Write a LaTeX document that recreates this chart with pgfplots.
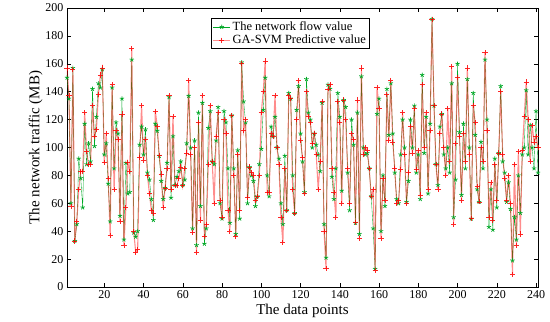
\documentclass[border=0pt]{standalone}
\usepackage{pgfplots}
\usepackage{pgfplotstable}
\usepackage{fontspec}
\setmainfont{Liberation Serif}
\pgfplotsset{compat=1.18}
\definecolor{gstar}{rgb}{0.0,0.66,0.15}
\pgfplotstableread{
x g r
1 150 157
2 135 137
3 60 58
4 157 156
5 33 33
6 45 47
7 92 70
8 78 83
9 57 83
10 117 125
11 88 97
12 103 88
13 90 88
14 142 130
15 101 108
16 122 113
17 146 138
18 143 152
19 156 157
20 95 89
21 103 110
22 74 78
23 47 37
24 143 145
25 85 70
26 118 112
27 110 106
28 51 47
29 135 124
30 34 30
31 89 57
32 67 89
33 68 83
34 163 171
35 39 40
36 36 25
37 40 27
38 102 93
39 115 130
40 95 91
41 113 106
42 82 80
43 77 67
44 63 55
45 48 53
46 117 126
47 112 115
48 94 94
49 76 81
50 63 57
51 71 71
52 89 85
53 136 137
54 64 70
55 108 122
56 73 73
57 79 73
58 83 78
59 90 86
60 73 73
61 77 85
62 103 96
63 137 148
64 100 95
65 42 39
66 105 100
67 30 25
68 125 118
69 58 48
70 132 137
71 31 36
72 42 45
73 114 88
74 126 130
75 90 90
76 88 60
77 105 108
78 129 125
79 60 62
80 49 50
81 126 120
82 118 110
83 85 55
84 46 40
85 123 123
86 85 80
87 38 36
88 98 95
89 49 55
90 161 160
91 133 112
92 118 120
93 60 64
94 86 86
95 80 82
96 76 80
97 58 62
98 65 65
99 88 80
100 99 125
101 127 140
102 150 162
103 80 68
104 65 68
105 115 110
106 108 108
107 122 137
108 100 100
109 92 88
110 60 50
111 45 32
112 94 85
113 55 55
114 139 137
115 135 135
116 80 70
117 53 53
118 127 120
119 144 148
120 110 105
121 90 93
122 68 67
123 149 140
124 125 122
125 120 118
126 100 103
127 110 110
128 102 95
129 95 70
130 83 90
131 132 133
132 45 40
133 21 13
134 145 142
135 142 145
136 79 85
137 63 68
138 85 50
139 139 133
140 122 118
141 69 60
142 134 134
143 129 120
144 82 85
145 55 60
146 120 110
147 102 106
148 46 46
149 125 134
150 38 35
151 151 157
152 100 95
153 95 100
154 96 98
155 85 85
156 65 65
157 42 70
158 13 12
159 124 143
160 135 128
161 40 35
162 80 78
163 58 62
164 142 138
165 109 105
166 146 148
167 110 104
168 82 85
169 63 60
170 60 62
171 95 84
172 120 125
173 100 95
174 61 60
175 76 82
176 120 115
177 100 96
178 130 128
179 82 84
180 95 98
181 63 66
182 152 145
183 96 100
184 122 125
185 67 70
186 117 112
187 192 192
188 130 130
189 88 88
190 73 70
191 115 110
192 124 124
193 95 100
194 85 80
195 100 128
196 82 90
197 146 158
198 50 45
199 77 103
200 160 150
201 111 108
202 66 62
203 117 110
204 85 90
205 149 157
206 100 95
207 49 49
208 139 130
209 109 118
210 70 72
211 61 61
212 104 100
213 85 90
214 163 168
215 120 112
216 43 50
217 70 75
218 41 48
219 92 88
220 57 62
221 96 96
222 144 140
223 90 95
224 82 78
225 61 62
226 75 80
227 56 60
228 19 9
229 50 88
230 34 30
231 80 97
232 53 38
233 95 98
234 100 122
235 141 147
236 95 120
237 116 90
238 100 116
239 85 104
240 126 108
241 82 100
}\datatable
\begin{document}
\begin{tikzpicture}
\useasboundingbox (-67bp,-35bp) rectangle (483bp,287bp);
\begin{axis}[
  scale only axis,
  width=471bp, height=279bp,
  xmin=1, xmax=241, ymin=0, ymax=200,
  xtick={20,40,...,240},
  ytick={0,20,...,200},
  tick align=inside,
  major tick length=4bp,
  tick style={black, line width=0.5pt},
  axis line style={line width=0.6pt},
  /pgf/number format/assume math mode=true,
  ticklabel style={font=\fontsize{12bp}{14bp}\selectfont},
  xlabel={The data points},
  ylabel={The network traffic (MB)},
  label style={font=\fontsize{15bp}{17bp}\selectfont},
  xlabel style={yshift=1bp},
  ylabel style={yshift=-4bp},
  legend style={at={(0.306,0.964)}, anchor=north west, draw=black, line width=0.6pt,
    font=\fontsize{12.5bp}{14bp}\selectfont, inner sep=1.5pt, row sep=-1pt},
  legend cell align=left,
  legend image post style={line width=0.7pt},
]
\addplot[color=gstar, line width=0.35pt, mark=star, mark size=2.3pt,
  mark options={color=gstar, line width=0.7pt}] table[x=x,y=g]{\datatable};
\addlegendentry{The network flow value}
\addplot[color=red, line width=1.1pt, draw opacity=0.45, mark=+, mark size=2.6pt,
  mark options={line width=0.8pt, draw opacity=0.85}] table[x=x,y=r]{\datatable};
\addlegendentry{GA-SVM Predictive value}
\end{axis}
\end{tikzpicture}
\end{document}
